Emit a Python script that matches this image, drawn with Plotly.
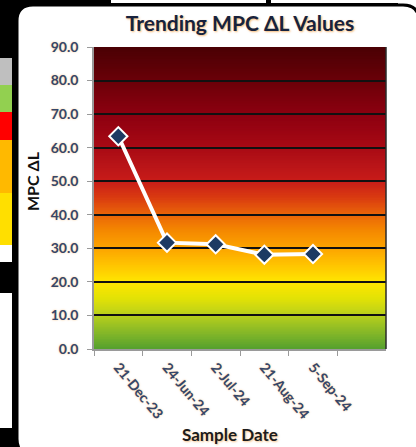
import numpy as np
import plotly.graph_objects as go

# ---------------- data ----------------
dates = ["21-Dec-23", "24-Jun-24", "2-Jul-24", "21-Aug-24", "5-Sep-24"]
mpc_dl = [63.4, 31.7, 31.2, 28.1, 28.3]
y_ticks = [0, 10, 20, 30, 40, 50, 60, 70, 80, 90]
y_tick_labels = ["0.0", "10.0", "20.0", "30.0", "40.0", "50.0", "60.0", "70.0", "80.0", "90.0"]

# ---------------- geometry ----------------
W, H = 416, 447
L, R, T, B = 94, 30, 47, 98
PW, PH = W - L - R, H - T - B


def px(x):
    return (x - L) / PW


def py(y):
    return (H - B - y) / PH


# gradient stops (value -> colour) for the background
grad_stops = [
    (0, "#55a02e"), (5, "#86b828"), (10, "#b8cf1c"), (15, "#e2e206"),
    (20, "#ffe600"), (25, "#ffc400"), (30, "#fca400"), (35, "#f58a00"),
    (40, "#ea6608"), (45, "#da3c10"), (50, "#c81c18"), (55, "#b81418"),
    (60, "#a80a14"), (65, "#9a0412"), (70, "#8c0010"), (75, "#7c000c"),
    (80, "#6a0008"), (85, "#5a0006"), (90, "#4a0004"),
]


def hex2rgb(h):
    h = h.lstrip("#")
    return np.array([int(h[i:i + 2], 16) for i in (0, 2, 4)], dtype=float)


sv = np.array([s[0] for s in grad_stops], dtype=float)
sc = np.array([hex2rgb(s[1]) for s in grad_stops])


def grad_color(v):
    rgb = [np.interp(v, sv, sc[:, k]) for k in range(3)]
    return "rgb(%d,%d,%d)" % tuple(int(round(c)) for c in rgb)


shapes = []


def prect(x0, y0, x1, y1, color):
    shapes.append(dict(type="rect", xref="paper", yref="paper", layer="below",
                       x0=px(x0), x1=px(x1), y0=py(y1), y1=py(y0),
                       fillcolor=color, line=dict(width=0)))


# top strip (pieces of surrounding sheet)
prect(111, 0, 266, 3, "white")
prect(271, 0, 416, 3, "white")
prect(398, 0, 416, 30, "white")

# left strip coloured cells
prect(0, 58, 12, 85, "#bfbfbf")
prect(0, 85, 12, 112, "#92d050")
prect(0, 112, 12, 140, "#ff0000")
prect(0, 140, 12, 193, "#ffb900")
prect(0, 193, 12, 245, "#ffdf00")
prect(0, 245, 12, 262, "white")
prect(0, 293, 12, 428, "white")

# rounded white chart box
bx0, by0, bx1, by1, rr = 17, 5, 419, 455, 16
path = (f"M {px(bx0)},{py(by0 + rr)} "
        f"Q {px(bx0)},{py(by0)} {px(bx0 + rr)},{py(by0)} "
        f"L {px(bx1 - rr)},{py(by0)} "
        f"Q {px(bx1)},{py(by0)} {px(bx1)},{py(by0 + rr)} "
        f"L {px(bx1)},{py(by1 - rr)} "
        f"Q {px(bx1)},{py(by1)} {px(bx1 - rr)},{py(by1)} "
        f"L {px(bx0 + rr)},{py(by1)} "
        f"Q {px(bx0)},{py(by1)} {px(bx0)},{py(by1 - rr)} Z")
shapes.append(dict(type="path", xref="paper", yref="paper", layer="below",
                   path=path, fillcolor="white", line=dict(color="black", width=3)))

# background gradient inside the plot area (overlapping slices to avoid seams)
step = 0.5
for v in np.arange(0, 90, step):
    shapes.append(dict(type="rect", xref="paper", yref="y", layer="below",
                       x0=0, x1=1, y0=v, y1=min(v + step + 0.4, 90),
                       fillcolor=grad_color(v + step / 2), line=dict(width=0)))

# right border of plot area
shapes.append(dict(type="line", xref="paper", yref="paper", layer="above",
                   x0=1, x1=1, y0=0, y1=1, line=dict(color="#2a2a2a", width=1.5)))

fig = go.Figure()
fig.add_trace(go.Scatter(
    x=dates, y=mpc_dl, mode="lines+markers",
    line=dict(color="white", width=4),
    marker=dict(symbol="diamond", size=14, color="#1d3a63",
                line=dict(color="white", width=2)),
    hoverinfo="x+y", showlegend=False, cliponaxis=False,
))

tick_font = dict(family="Lato", size=14, color="#35466a", weight="bold",
                 shadow="0px 0px 2px rgba(240,150,40,0.55)")

fig.update_layout(
    width=W, height=H,
    margin=dict(l=L, r=R, t=T, b=B, pad=0),
    paper_bgcolor="black",
    plot_bgcolor="rgba(0,0,0,0)",
    shapes=shapes,
    title=dict(text="Trending MPC ΔL Values", x=240 / W, xref="container", xanchor="center",
               y=1 - 24 / H, yref="container", yanchor="middle",
               font=dict(family="Lato", size=21, color="#17223d", weight="bold",
                         shadow="1px 1px 2px rgba(240,140,30,0.6)")),
    xaxis=dict(
        type="category", categoryorder="array", categoryarray=dates,
        range=[-0.5, 5.5], tickson="boundaries",
        showline=True, linecolor="#9a9a9a", linewidth=1.5,
        ticks="outside", ticklen=5, tickcolor="#9a9a9a", tickwidth=1,
        tickangle=50, ticklabelstandoff=3,
        tickfont=tick_font, showgrid=False, fixedrange=True,
    ),
    yaxis=dict(
        range=[0, 90], tickvals=y_ticks, ticktext=y_tick_labels,
        showline=True, linecolor="#9a9a9a", linewidth=1.5,
        ticks="outside", ticklen=5, tickcolor="#9a9a9a", tickwidth=1,
        ticklabelstandoff=6,
        showgrid=True, gridcolor="#111111", gridwidth=1.5,
        zeroline=False, tickfont=tick_font, fixedrange=True,
    ),
    annotations=[
        dict(text="MPC ΔL", xref="paper", yref="paper", x=px(32), y=py(181),
             textangle=-90, showarrow=False, xanchor="center", yanchor="middle",
             font=dict(family="Lato", size=16, color="#111111", weight="bold")),
        dict(text="Sample Date", xref="paper", yref="paper", x=px(230), y=py(435),
             showarrow=False, xanchor="center", yanchor="middle",
             font=dict(family="Lato", size=17, color="#1c1c1c", weight="bold",
                       shadow="1px 1px 2px rgba(240,140,30,0.5)")),
    ],
)

fig.write_html("out.html", config={"displayModeBar": False},
               post_script="document.body.style.margin='0';document.body.style.overflow='hidden';")
